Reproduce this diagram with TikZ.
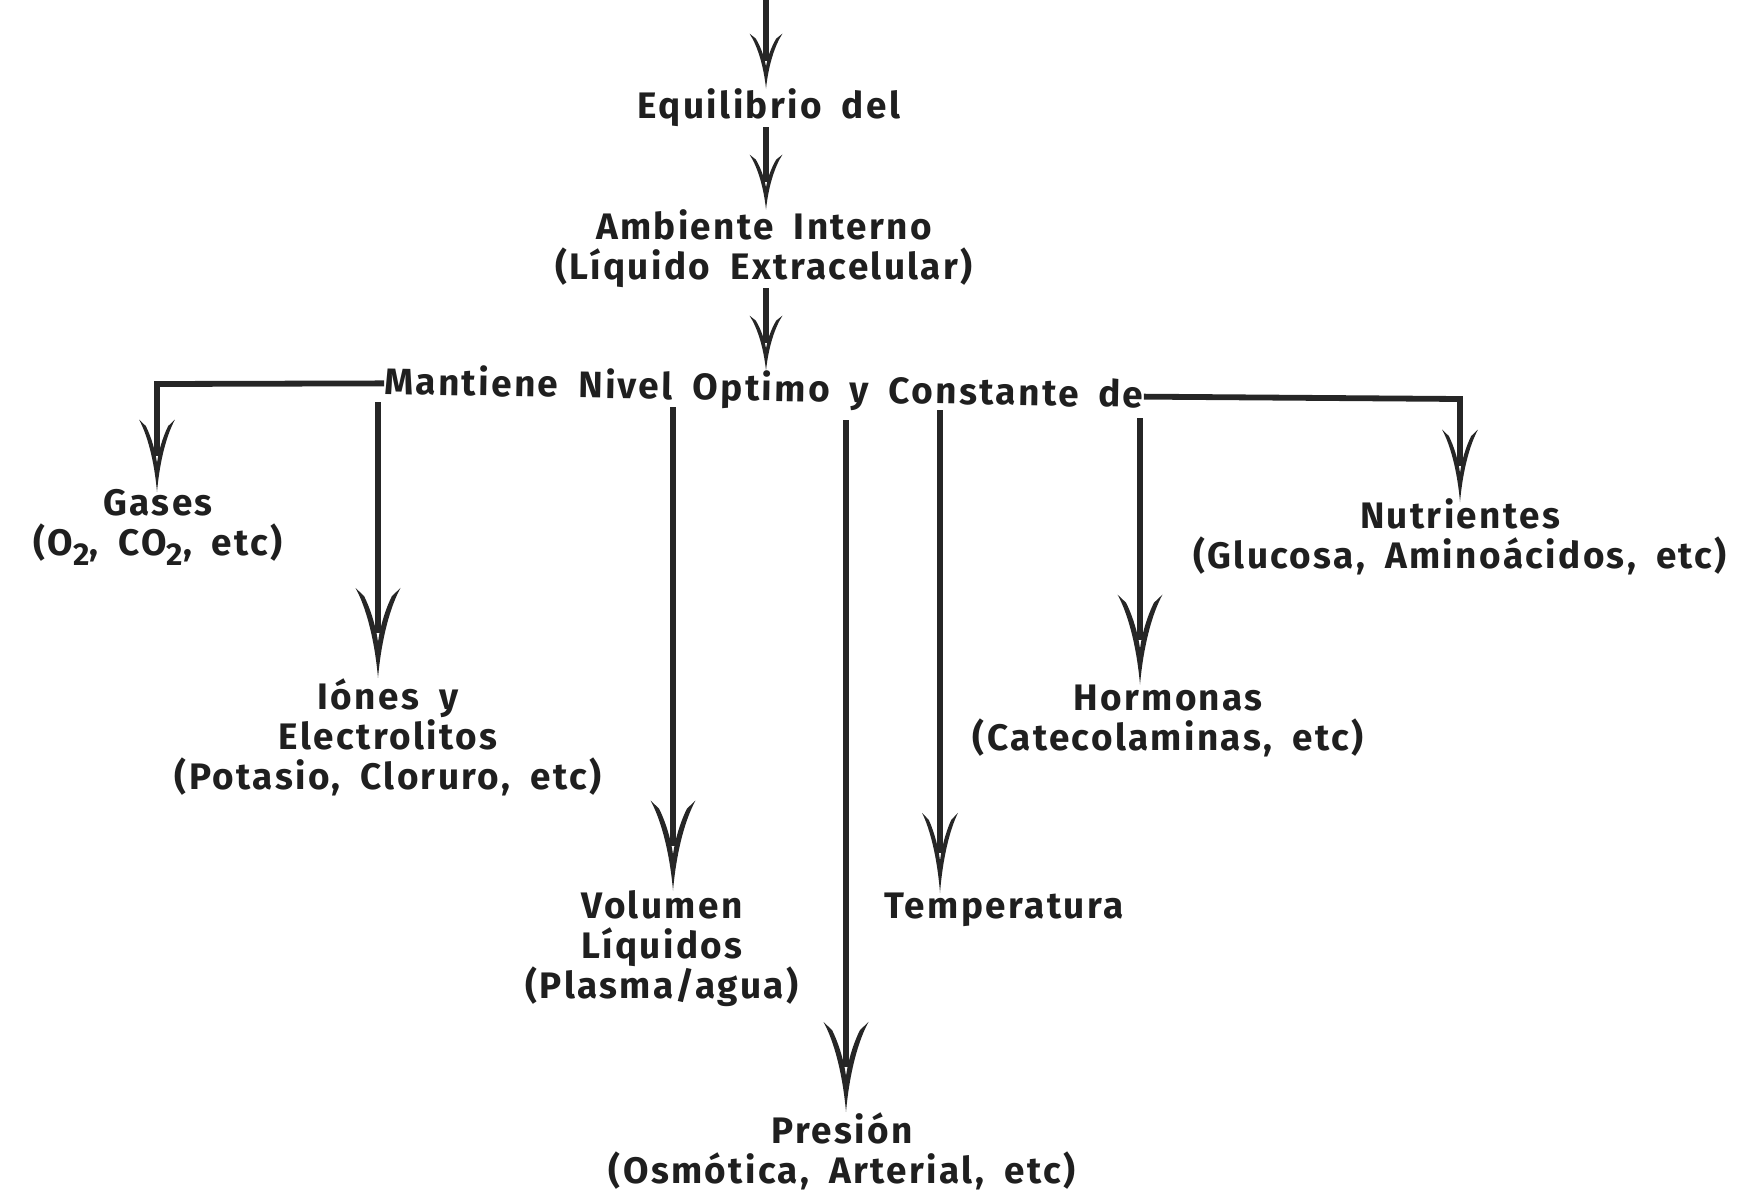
\documentclass[tikz,border=0pt]{standalone}
\usepackage{fontspec}
\setmainfont{Fira Sans}[LetterSpace=6.5,WordSpace=1.8]
\usetikzlibrary{arrows.meta}
\newcommand{\subtwo}{\raisebox{-0.5ex}{\fontsize{18}{18}\selectfont 2}}
\pgfdeclarearrow{
  name = Barbed,
  parameters = {\the\pgfarrowlength,\the\pgfarrowwidth},
  setup code = {
    \pgfarrowssettipend{\pgfarrowlength}
    \pgfarrowssetbackend{0pt}
    \pgfarrowssetlineend{0.5\pgfarrowlength}
    \pgfarrowsupperhullpoint{\pgfarrowlength}{0pt}
    \pgfarrowsupperhullpoint{0pt}{0.5\pgfarrowwidth}
    \pgfarrowssavethe\pgfarrowlength
    \pgfarrowssavethe\pgfarrowwidth
  },
  drawing code = {
    \pgfpathmoveto{\pgfqpoint{\pgfarrowlength}{0pt}}
    \pgfpathcurveto{\pgfqpoint{0.55\pgfarrowlength}{0.08\pgfarrowwidth}}{\pgfqpoint{0.2\pgfarrowlength}{0.28\pgfarrowwidth}}{\pgfqpoint{0pt}{0.5\pgfarrowwidth}}
    \pgfpathlineto{\pgfqpoint{0.09\pgfarrowlength}{0.31\pgfarrowwidth}}
    \pgfpathcurveto{\pgfqpoint{0.25\pgfarrowlength}{0.15\pgfarrowwidth}}{\pgfqpoint{0.45\pgfarrowlength}{0.04\pgfarrowwidth}}{\pgfqpoint{0.6\pgfarrowlength}{0pt}}
    \pgfpathcurveto{\pgfqpoint{0.45\pgfarrowlength}{-0.04\pgfarrowwidth}}{\pgfqpoint{0.25\pgfarrowlength}{-0.15\pgfarrowwidth}}{\pgfqpoint{0.09\pgfarrowlength}{-0.31\pgfarrowwidth}}
    \pgfpathlineto{\pgfqpoint{0pt}{-0.5\pgfarrowwidth}}
    \pgfpathcurveto{\pgfqpoint{0.2\pgfarrowlength}{-0.28\pgfarrowwidth}}{\pgfqpoint{0.55\pgfarrowlength}{-0.08\pgfarrowwidth}}{\pgfqpoint{\pgfarrowlength}{0pt}}
    \pgfpathclose
    \pgfusepathqfill
  },
  defaults = {length = 1cm, width = 0.5cm}
}
\begin{document}
\begin{tikzpicture}[x=0.02cm,y=0.02cm,
  lbl/.style={font=\fontsize{21}{22.8}\selectfont\bfseries, align=center, inner sep=0pt, text=black!88},
  conn/.style={line width=3.3pt, color=black!85},
  bigarrow/.style={conn,-{Barbed[length=1.8cm,width=0.9cm]}},
  midarrow/.style={conn,-{Barbed[length=1.45cm,width=0.72cm]}},
  temparrow/.style={conn,-{Barbed[length=1.6cm,width=0.72cm]}},
  smallarrow/.style={conn,-{Barbed[length=1.1cm,width=0.66cm]}}]
\path[use as bounding box] (0,0) rectangle (1753,-1193);

\node[lbl] (eq) at (769,-108) {Equilibrio del};
\node[lbl] (amb) at (764,-249) {Ambiente Interno\\(L\'{\i}quido Extracelular)};
\node[lbl, rotate=-1] (mant) at (764,-390) {Mantiene Nivel Optimo y Constante de};

\node[lbl] (gas) at (158,-527) {Gases\\(O\subtwo, CO\subtwo, etc)};
\node[lbl] (ion) at (388,-737) {I\'ones y\\Electrolitos\\(Potasio, Cloruro, etc)};
\node[lbl] (vol) at (662,-949) {Volumen\\L\'{\i}quidos\\(Plasma/agua)};
\node[lbl] (pre) at (842,-1151) {Presi\'on\\(Osm\'otica, Arterial, etc)};
\node[lbl] (tem) at (1004,-910) {Temperatura};
\node[lbl] (hor) at (1168,-721) {Hormonas\\(Catecolaminas, etc)};
\node[lbl] (nut) at (1460,-537) {Nutrientes\\(Glucosa, Amino\'acidos, etc)};

\coordinate (top) at (766,0);
\coordinate (sion) at (378,-402);
\coordinate (svol) at (673,-407);
\coordinate (spre) at (846,-420);
\coordinate (stem) at (940,-410);
\coordinate (shor) at (1140,-418);
\coordinate (gcorner) at (157,-384);
\coordinate (ncorner) at (1460,-399);
\coordinate (tgas) at (157,-492);
\coordinate (tnut) at (1460,-502);

\draw[smallarrow] (top) -- (top |- eq.north);
\draw[smallarrow] (eq.south -| top) -- (top |- amb.north);
\draw[smallarrow] (amb.south -| top) -- (top |- mant.north);

\draw[midarrow] (mant.west) -- (gcorner) -- (tgas);
\draw[midarrow] (mant.east) -- (ncorner) -- (tnut);

\draw[bigarrow] (sion) -- (sion |- ion.north);
\draw[bigarrow] (svol) -- (svol |- vol.north);
\draw[bigarrow] (spre) -- (spre |- pre.north);
\draw[temparrow] (stem) -- (stem |- tem.north);
\draw[bigarrow] (shor) -- (shor |- hor.north);
\end{tikzpicture}
\end{document}
